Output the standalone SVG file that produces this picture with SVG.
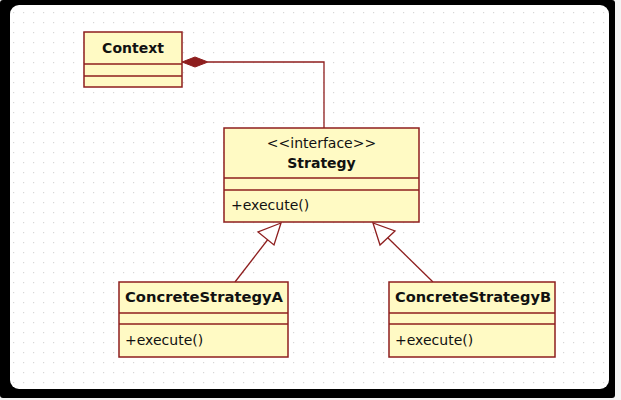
<svg xmlns="http://www.w3.org/2000/svg" width="621" height="400" viewBox="0 0 621 400">
<style>
.box{fill:#fffac4;stroke:#8e1e1e;stroke-width:1.5}
.div{stroke:#8e1e1e;stroke-width:1.5}
.t{font-family:"DejaVu Sans",Verdana,sans-serif;font-size:14px;fill:#111}
.b{font-weight:bold}
.c{text-anchor:middle}
.ln{fill:none;stroke:#8e1e1e;stroke-width:1.3}
.tri{fill:#fff;stroke:#8e1e1e;stroke-width:1.3}
</style>
<defs>
<pattern id="dots" x="3" y="2" width="10" height="10" patternUnits="userSpaceOnUse">
<rect x="0" y="0" width="1.2" height="1.2" fill="#d6d6d6"/>
</pattern>
</defs>
<rect x="0" y="0" width="621" height="400" fill="#f4f4f4"/>
<rect x="0" y="0" width="615" height="398" rx="3" fill="#000"/>
<rect x="10" y="5" width="599" height="384" rx="9" fill="#fff"/>
<rect x="12" y="7" width="595" height="380" rx="8" fill="url(#dots)"/>
<g id="connectors">
<polyline class="ln" points="208,62 324,62 324,128"/>
<polygon points="182,62 195,57 208,62 195,67" fill="#8e1e1e" stroke="#8e1e1e" stroke-width="1"/>
<line class="ln" x1="235" y1="282" x2="269" y2="238"/>
<polygon class="tri" points="281,223 258,232 274,245"/>
<line class="ln" x1="433" y1="282" x2="387" y2="237"/>
<polygon class="tri" points="373,223 380,245 395,231"/>
</g>
<g id="Context">
<rect class="box" x="84" y="32" width="98" height="55"/>
<line class="div" x1="84" y1="64" x2="182" y2="64"/>
<line class="div" x1="84" y1="76" x2="182" y2="76"/>
<text class="t b c" x="133" y="53">Context</text>
</g>
<g id="Strategy">
<rect class="box" x="224" y="128" width="195" height="94"/>
<line class="div" x1="224" y1="178" x2="419" y2="178"/>
<line class="div" x1="224" y1="190" x2="419" y2="190"/>
<text class="t c" x="321.5" y="148">&lt;&lt;interface&gt;&gt;</text>
<text class="t b c" x="321.5" y="168">Strategy</text>
<text class="t" x="231" y="210">+execute()</text>
</g>
<g id="ConcreteStrategyA">
<rect class="box" x="119" y="282" width="169" height="75"/>
<line class="div" x1="119" y1="313" x2="288" y2="313"/>
<line class="div" x1="119" y1="324" x2="288" y2="324"/>
<text class="t b" x="125" y="302" textLength="158" lengthAdjust="spacingAndGlyphs">ConcreteStrategyA</text>
<text class="t" x="125" y="345">+execute()</text>
</g>
<g id="ConcreteStrategyB">
<rect class="box" x="389" y="282" width="166" height="75"/>
<line class="div" x1="389" y1="313" x2="555" y2="313"/>
<line class="div" x1="389" y1="324" x2="555" y2="324"/>
<text class="t b" x="395" y="302" textLength="156" lengthAdjust="spacingAndGlyphs">ConcreteStrategyB</text>
<text class="t" x="395" y="345">+execute()</text>
</g>
</svg>
